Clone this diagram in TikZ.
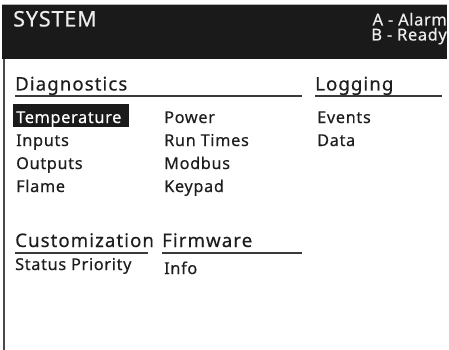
\documentclass[tikz,border=0pt]{standalone}
\usepackage{fontspec}
\setmainfont{Noto Sans}
\newfontfamily\titlefont[LetterSpace=4,FakeBold=0.4]{Noto Sans}
\newfontfamily\statusfont[LetterSpace=3.5,FakeBold=0.4]{Noto Sans}
\newfontfamily\headfont[LetterSpace=5.5,FakeBold=0.4]{Noto Sans}
\newfontfamily\itemfont[LetterSpace=4,FakeBold=0.4]{Noto Sans}
\definecolor{barbg}{HTML}{1A1A1A}
\definecolor{ink}{HTML}{1E1E1E}
\definecolor{rule}{HTML}{3A3A3A}
\definecolor{side}{HTML}{4A4A4A}
\definecolor{bartext}{HTML}{EDEDED}
\tikzset{
  title/.style={font=\titlefont\fontsize{21.5}{21.5}\selectfont, text=bartext, anchor=base west, inner sep=0pt},
  status/.style={font=\statusfont\fontsize{16.5}{16.5}\selectfont, text=bartext, anchor=base east, inner sep=0pt},
  head/.style={font=\headfont\fontsize{18.7}{18.7}\selectfont, text=ink, anchor=base west, inner sep=0pt},
  item/.style={font=\itemfont\fontsize{16.3}{16.3}\selectfont, text=ink, anchor=base west, inner sep=0pt},
  hl/.style={item, text=white},
  uline/.style={draw=rule, line width=2pt},
}
\begin{document}
\begin{tikzpicture}[x=1pt,y=-1pt]
\useasboundingbox (0,0) rectangle (449,350);
% top bar
\fill[barbg] (2,5) rectangle (447,59);
\draw[gray!60, line width=0.8pt] (2,4.5) -- (447,4.5);
\node[title] (sys) at (13,26.5) {SYSTEM};
\node[status] (alarm) at (447,25.5) {A - Alarm};
\node[status] (ready) at (447,40.5) {B - Ready};
% left side line
\draw[side, line width=2pt] (4,59) -- (4,350);
% Diagnostics
\node[head] (diag) at (15,90.5) {Diagnostics};
\draw[uline] (15,96.5) -- (302,96.5);
\node[head] (log) at (315,90.5) {Logging};
\draw[uline] (315,96.5) -- (442,96.5);
% highlight
\fill[barbg] (13,104) rectangle (129,126.5);
\node[hl] (temp) at (16,123) {Temperature};
\node[item] (inputs) at (16,146) {Inputs};
\node[item] (outputs) at (16,169) {Outputs};
\node[item] (flame) at (16,192) {Flame};
\node[item] (power) at (164,123) {Power};
\node[item] (run) at (164,146) {Run Times};
\node[item] (modbus) at (164,169) {Modbus};
\node[item] (keypad) at (164,192) {Keypad};
\node[item] (events) at (317,123) {Events};
\node[item] (data) at (317,146) {Data};
% Customization / Firmware
\node[head] (cust) at (15,247) {Customization};
\draw[uline] (15,252.5) -- (148,252.5);
\node[head] (firm) at (162,247) {Firmware};
\draw[uline] (162,252.5) -- (302,252.5);
\node[item] (status) at (15,270) {Status Priority};
\node[item] (info) at (164,274) {Info};
\end{tikzpicture}
\end{document}
